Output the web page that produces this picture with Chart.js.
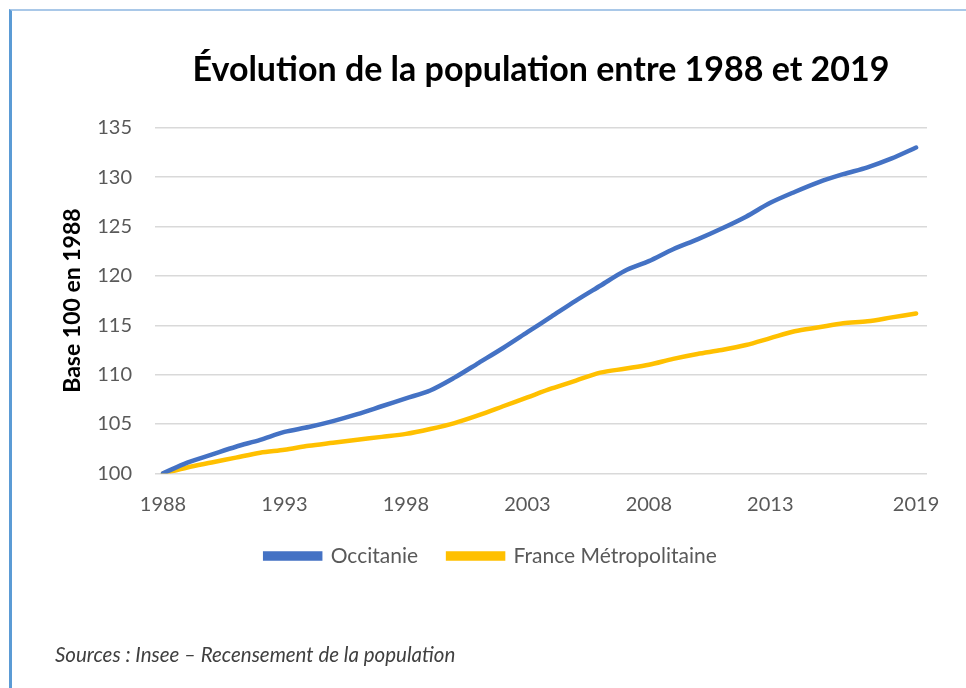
<!DOCTYPE html>
<html>
<head>
<meta charset="utf-8">
<script src="https://cdn.jsdelivr.net/npm/chart.js@4"></script>
<style>
  body { margin: 0; background: #fff; }
  #frame { position: absolute; left: 9px; top: 9px; width: 1000px; height: 1000px;
           border-left: 3px solid #5b9bd5; border-top: 2px solid #a9c8e8; }
  #wrap { position: absolute; left: 0; top: 0; width: 966px; height: 688px; }
</style>
</head>
<body>
<div id="frame"></div>
<div id="wrap"><canvas id="chart"></canvas></div>
<script>
// annees 1988 -> 2019, base 100 en 1988
const years = [1988,1989,1990,1991,1992,1993,1994,1995,1996,1997,1998,1999,2000,2001,2002,2003,
               2004,2005,2006,2007,2008,2009,2010,2011,2012,2013,2014,2015,2016,2017,2018,2019];
const occitanie = [100,101.1,101.9,102.7,103.4,104.2,104.7,105.3,106.0,106.8,107.6,108.4,109.7,111.2,112.7,114.3,
                   115.9,117.5,119.0,120.5,121.5,122.7,123.7,124.8,126.0,127.4,128.5,129.5,130.3,131.0,131.9,133.0];
const franceMetro = [100,100.6,101.1,101.6,102.1,102.4,102.8,103.1,103.4,103.7,104.0,104.5,105.1,105.9,106.8,107.7,
                     108.6,109.4,110.2,110.6,111.0,111.6,112.1,112.5,113.0,113.7,114.4,114.8,115.2,115.4,115.8,116.2];
const xTicks = [1988, 1993, 1998, 2003, 2008, 2013, 2019];
const yTicks = [100, 105, 110, 115, 120, 125, 130, 135];

const blue = '#4472c4';
const yellow = '#ffc000';
const grey = '#595959';

function pts(vals) { return years.map((y, i) => ({x: y, y: vals[i]})); }

new Chart(document.getElementById('chart'), {
  type: 'line',
  data: {
    datasets: [
      { label: 'Occitanie', data: pts(occitanie), borderColor: blue, backgroundColor: blue,
        borderWidth: 4.5, pointRadius: 0, tension: 0.3, borderCapStyle: 'round' },
      { label: 'France Métropolitaine', data: pts(franceMetro), borderColor: yellow, backgroundColor: yellow,
        borderWidth: 4.5, pointRadius: 0, tension: 0.3, borderCapStyle: 'round' }
    ]
  },
  options: {
    responsive: true,
    maintainAspectRatio: false,
    animation: false,
    layout: { padding: { left: 55, right: 39, top: 30, bottom: 10 } },
    plugins: {
      title: {
        display: true, fullSize: false,
        text: 'Évolution de la population entre 1988 et 2019',
        color: '#000', font: { family: 'Lato', size: 34, weight: 'bold' },
        padding: { top: 20, bottom: 37 }
      },
      subtitle: {
        display: true, position: 'bottom', align: 'start',
        text: 'Sources : Insee – Recensement de la population',
        color: '#404040', font: { family: 'Lato', size: 20.5, style: 'italic' },
        padding: { top: 67, bottom: 10 }
      },
      legend: {
        position: 'bottom',
        labels: { boxWidth: 55, boxHeight: 5, padding: 30, color: grey,
                  font: { family: 'Lato', size: 21 } }
      },
      tooltip: { enabled: false }
    },
    scales: {
      x: {
        type: 'linear', min: 1987.67, max: 2019.45,
        grid: { display: false, drawTicks: false },
        border: { display: false },
        afterBuildTicks: s => { s.ticks = xTicks.map(v => ({ value: v })); },
        afterFit: s => { s.height = 42; },
        ticks: { padding: 19, color: grey, font: { family: 'Lato', size: 20 },
                 callback: v => String(v), maxRotation: 0 }
      },
      y: {
        min: 100, max: 135,
        afterBuildTicks: s => { s.ticks = yTicks.map(v => ({ value: v })); },
        afterFit: s => { s.width = 100; },
        grid: { color: '#d9d9d9', lineWidth: 1.5, drawTicks: false },
        border: { display: false },
        ticks: { padding: 23, color: grey, font: { family: 'Lato', size: 20 } },
        title: { display: true, text: 'Base 100 en 1988', color: '#000',
                 font: { family: 'Lato', size: 23, weight: 'bold' },
                 padding: { top: 4, bottom: 4 } }
      }
    }
  }
});
</script>
</body>
</html>
